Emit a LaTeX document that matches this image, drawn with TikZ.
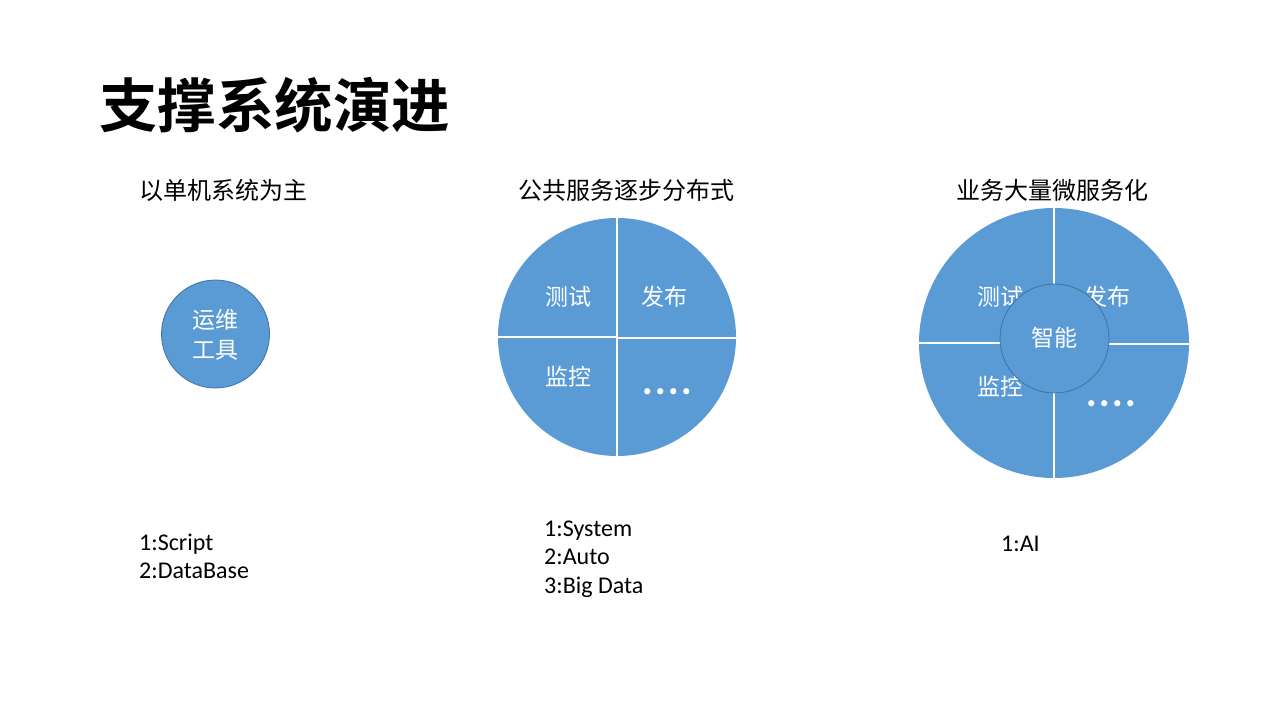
\documentclass[tikz,border=0pt]{standalone}
\usepackage{fontspec}
\setmainfont{Carlito}
\newfontfamily\cjk{Noto Sans CJK SC}
\newfontfamily\cjkb{Noto Sans CJK SC Bold}
\newfontfamily\dotsfont[LetterSpace=5]{Poppins}
\definecolor{pieblue}{HTML}{5B9BD5}
\definecolor{rimblue}{HTML}{41719C}
\begin{document}
\begin{tikzpicture}[x=1pt,y=-1pt,
  disc/.style={circle,fill=pieblue,inner sep=0pt,minimum size=#1},
  rimdisc/.style={disc=#1,draw=rimblue,line width=0.8pt},
  gap/.style={draw=white,line width=2pt},
  qlabel/.style={text=white,font=\cjk\fontsize{23}{27}\selectfont,inner sep=0pt},
  dotlabel/.style={text=white,font=\dotsfont\fontsize{50}{50}\selectfont,inner sep=0pt,anchor=base},
  subtitle/.style={font=\cjk\fontsize{24}{28}\selectfont,inner sep=0pt},
  listline/.style={font=\fontsize{24}{28}\selectfont,anchor=base west,inner sep=0pt}]
\useasboundingbox (0,0) rectangle (1279,719);
\fill[white] (0,0) rectangle (1279,719);

% title
\node[anchor=west,inner sep=0pt,font=\cjkb\fontsize{58.5}{64}\selectfont] (title) at (99,105) {支撑系统演进};

% subtitles
\node[subtitle] (s1) at (223,190) {以单机系统为主};
\node[subtitle] (s2) at (626,190) {公共服务逐步分布式};
\node[subtitle] (s3) at (1052,190) {业务大量微服务化};

% stage 1
\node[rimdisc=108pt] (tool) at (215.5,334) {};
\node[qlabel] (tool1) at (215.5,320) {运维};
\node[qlabel] (tool2) at (215.5,350) {工具};

% stage 2
\node[disc=238pt] (mid) at (617,337) {};
\draw[gap] (mid.north) -- (mid.south);
\draw[gap] (mid.west) -- (mid.center);
\draw[gap] ([yshift=-1pt]mid.center) -- ([yshift=-1pt]mid.east);
\node[qlabel] (m1) at (568,297) {测试};
\node[qlabel] (m2) at (664,297) {发布};
\node[qlabel] (m3) at (568,377) {监控};
\node[dotlabel] (m4) at (667,394) {....};

% stage 3
\node[disc=270pt] (big) at (1054,343) {};
\draw[gap] (big.north) -- (big.south);
\draw[gap] (big.west) -- (big.center);
\draw[gap] ([yshift=-1pt]big.center) -- ([yshift=-1pt]big.east);
\node[qlabel] (b1) at (1000,297) {测试};
\node[qlabel] (b2) at (1107,297) {发布};
\node[qlabel] (b3) at (1000,387) {监控};
\node[dotlabel] (b4) at (1111,406) {....};
\node[rimdisc=109pt] (ai) at (1054.5,338.5) {};
\node[qlabel] (ai1) at (1054.5,338) {智能};

% lists
\node[listline] (l1) at (139,550) {1:Script};
\node[listline] (l2) at (139,578) {2:DataBase};
\node[listline] (c1) at (544,536) {1:System};
\node[listline] (c2) at (544,564.5) {2:Auto};
\node[listline] (c3) at (544,593) {3:Big Data};
\node[listline] (r1) at (1001,551) {1:AI};
\end{tikzpicture}
\end{document}
